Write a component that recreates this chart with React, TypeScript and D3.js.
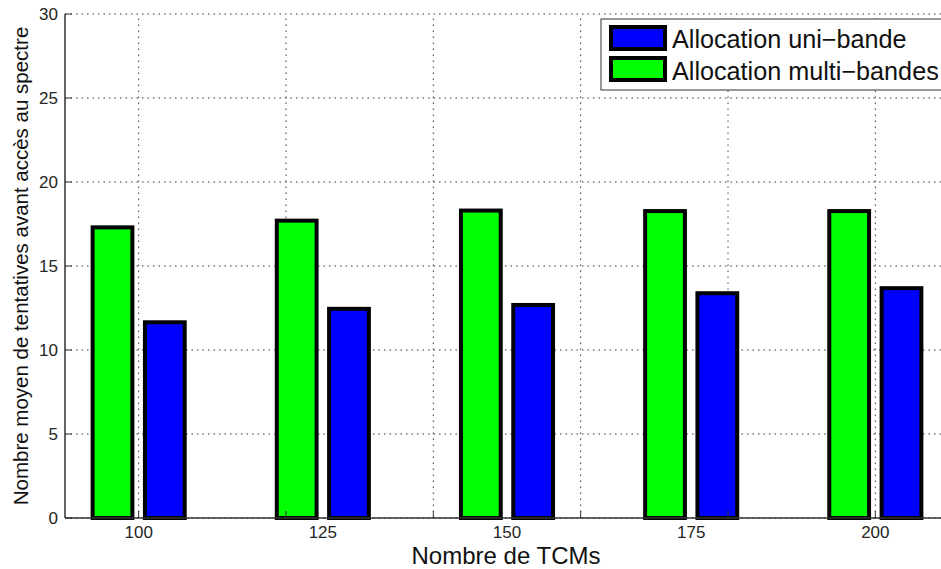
import * as d3 from "d3";

const categories = [100, 125, 150, 175, 200];
const multiBandes = [17.3, 17.7, 18.3, 18.27, 18.27];
const uniBande = [11.65, 12.45, 12.68, 13.38, 13.68];
const yTicks = [0, 5, 10, 15, 20, 25, 30];
const gridX = [100, 120, 140, 160, 180, 200];
const legendLabels = ["Allocation uni-bande", "Allocation multi-bandes"];

const W = 941;
const H = 569;
const FONT = "'Liberation Sans', Arial, sans-serif";

export default function App() {
  const x = d3.scaleLinear().domain([90, 210]).range([65, 949]);
  const y = d3.scaleLinear().domain([0, 30]).range([518, 14]);

  const barW = 5.4; // data units
  const offset = 3.55;

  const bars = categories.flatMap((c, i) => [
    { key: `g${i}`, x0: c - offset - barW / 2, v: multiBandes[i], fill: "#00ff00" },
    { key: `b${i}`, x0: c + offset - barW / 2, v: uniBande[i], fill: "#0000ff" },
  ]);

  const grid = "#3a3a3a";

  return (
    <svg width={W} height={H} style={{ position: "absolute", left: 0, top: 0, background: "#fff" }}>
      {/* grid */}
      {yTicks.map((t) => (
        <line key={`gy${t}`} x1={x(90)} x2={x(210)} y1={y(t)} y2={y(t)}
          stroke={grid} strokeWidth={1} strokeDasharray="1.5,4" />
      ))}
      {gridX.map((t) => (
        <line key={`gx${t}`} x1={x(t)} x2={x(t)} y1={y(0)} y2={y(30)}
          stroke={grid} strokeWidth={1} strokeDasharray="1.5,4.5" />
      ))}

      {/* bars */}
      {bars.map((b) => (
        <rect key={b.key} x={x(b.x0)} y={y(b.v)} width={x(b.x0 + barW) - x(b.x0)}
          height={y(0) - y(b.v)} fill={b.fill} stroke="#000" strokeWidth={4} />
      ))}

      {/* axes */}
      <line x1={x(90)} x2={x(90)} y1={y(0)} y2={y(30)} stroke="#333" strokeWidth={1.5} />
      <line x1={x(90)} x2={x(210)} y1={y(0)} y2={y(0)} stroke="#333" strokeWidth={1.5} />
      {yTicks.map((t) => (
        <g key={`ty${t}`}>
          <line x1={x(90)} x2={x(90) + 7} y1={y(t)} y2={y(t)} stroke="#333" strokeWidth={1} />
          <text x={58} y={y(t)} dy="0.36em" textAnchor="end" fontFamily={FONT} fontSize={17} fill="#262626">{t}</text>
        </g>
      ))}
      {gridX.map((t) => (
        <line key={`tx${t}`} x1={x(t)} x2={x(t)} y1={y(0)} y2={y(0) - 7} stroke="#333" strokeWidth={1} />
      ))}
      {categories.map((c) => (
        <text key={`lx${c}`} x={x(c)} y={538.3} textAnchor="middle" fontFamily={FONT} fontSize={17} fill="#262626">{c}</text>
      ))}

      <text x={506} y={563.8} textAnchor="middle" fontFamily={FONT} fontSize={24} fill="#111">Nombre de TCMs</text>
      <text transform={`translate(28,${(y(0) + y(30)) / 2}) rotate(-90)`} textAnchor="middle"
        fontFamily={FONT} fontSize={20.5} fill="#111">Nombre moyen de tentatives avant accès au spectre</text>

      {/* legend */}
      <rect x={601} y={19} width={360} height={71} fill="#fff" stroke="#333" strokeWidth={1} />
      {legendLabels.map((l, i) => (
        <g key={l}>
          <rect x={611} y={27 + i * 31} width={54} height={22}
            fill={i === 0 ? "#0000ff" : "#00ff00"} stroke="#000" strokeWidth={4} />
          <text x={672} y={48 + i * 32} fontFamily={FONT} fontSize={25.2} fill="#111">{l.replace("-", "\u2212")}</text>
        </g>
      ))}
    </svg>
  );
}
